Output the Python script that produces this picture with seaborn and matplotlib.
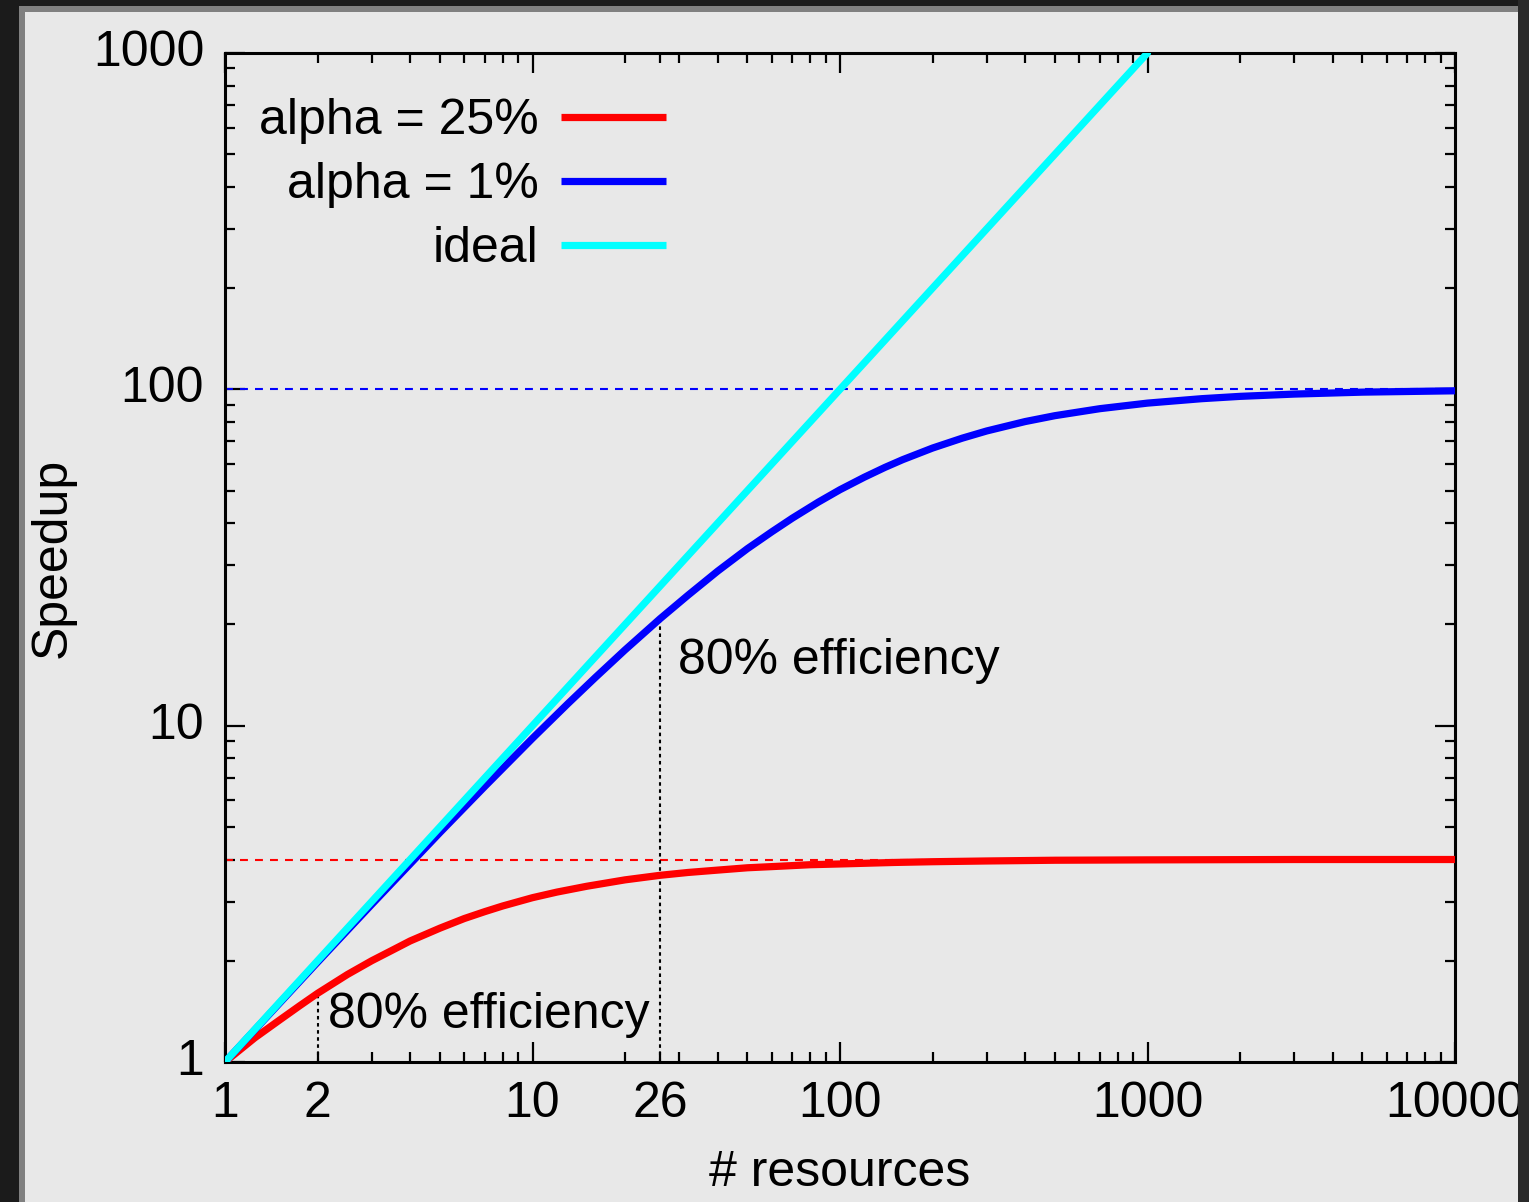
import numpy as np
import pandas as pd
import matplotlib
matplotlib.use("Agg")
import matplotlib.pyplot as plt
import matplotlib.ticker as mticker
import matplotlib.transforms as mtransforms
from matplotlib.patches import Rectangle
import seaborn as sns

# speedup vs number of resources
n_alpha25 = [1, 1.25, 1.5, 1.75, 2, 2.5, 3, 3.5, 4, 5, 6, 7, 8, 10, 12, 15, 20, 26, 32, 40,
             50, 60, 80, 100, 150, 200, 300, 500, 1000, 3000, 10000]
s_alpha25 = [1.00, 1.18, 1.33, 1.47, 1.60, 1.82, 2.00, 2.15, 2.29, 2.50, 2.67, 2.80, 2.91,
             3.08, 3.20, 3.33, 3.48, 3.59, 3.66, 3.72, 3.78, 3.81, 3.86, 3.88, 3.92, 3.94,
             3.96, 3.98, 3.99, 4.00, 4.00]

n_alpha1 = [1, 2, 3, 5, 7, 10, 13, 16, 20, 26, 32, 40, 50, 60, 70, 85, 100, 120, 140, 160,
            200, 250, 300, 400, 500, 700, 1000, 1500, 2000, 3000, 5000, 10000]
s_alpha1 = [1.00, 1.98, 2.94, 4.81, 6.60, 9.17, 11.6, 13.9, 16.8, 20.8, 24.4, 28.8, 33.6,
            37.7, 41.4, 46.2, 50.3, 54.8, 58.6, 61.8, 66.9, 71.6, 75.2, 80.2, 83.5, 87.6,
            91.0, 93.8, 95.3, 96.8, 98.1, 99.0]

n_ideal = [1, 1000]
s_ideal = [1, 1000]

limit_levels = [4, 100]          # asymptotes for alpha = 25% and 1%
eff_n = [2, 26]                  # 80% efficiency points
eff_s = [1.6, 20.8]

labels = ["alpha = 25%", "alpha = 1%", "ideal"]
x_ticks = [1, 10, 100, 1000, 10000]
x_extra = [2, 26]
y_ticks = [1, 10, 100, 1000]

RED, BLUE, CYAN = "#ff0000", "#0000ff", "#00ffff"
BG = "#e8e8e8"
FS = 36
LW = 5.2

sns.set_theme(style="ticks")
plt.rcParams["font.family"] = ["Liberation Sans", "DejaVu Sans"]
plt.rcParams["axes.linewidth"] = 2.2
plt.rcParams["axes.edgecolor"] = "black"
plt.rcParams["axes.labelcolor"] = "black"
plt.rcParams["text.color"] = "black"
plt.rcParams["xtick.color"] = "black"
plt.rcParams["ytick.color"] = "black"

fig = plt.figure(figsize=(15.29, 12.02), dpi=100, facecolor=BG)
ax = fig.add_axes([225 / 1529, 1 - 1062 / 1202, 1230 / 1529, 1009 / 1202])
ax.set_facecolor(BG)

df25 = pd.DataFrame({"n": n_alpha25, "s": s_alpha25})
df1 = pd.DataFrame({"n": n_alpha1, "s": s_alpha1})
dfi = pd.DataFrame({"n": n_ideal, "s": s_ideal})

# dashed asymptotes and dotted efficiency markers
ax.hlines(limit_levels, 1, 10000, colors=[RED, BLUE], linewidth=1.5,
          linestyles=[(0, (3.8, 3.4))], zorder=1)
ax.vlines(eff_n, 1, eff_s, colors="black", linewidth=1.5,
          linestyles=[(0, (1.7, 1.7))], zorder=1)

sns.lineplot(data=df25, x="n", y="s", color=RED, lw=LW, label=labels[0], ax=ax, zorder=3)
sns.lineplot(data=df1, x="n", y="s", color=BLUE, lw=LW, label=labels[1], ax=ax, zorder=3)
sns.lineplot(data=dfi, x="n", y="s", color=CYAN, lw=LW, label=labels[2], ax=ax, zorder=3)

ax.set_xscale("log")
ax.set_yscale("log")
ax.set_xlim(1, 10000)
ax.set_ylim(1, 1000)

ax.xaxis.set_major_locator(mticker.FixedLocator(x_ticks))
ax.xaxis.set_major_formatter(mticker.FixedFormatter([str(t) for t in x_ticks]))
ax.yaxis.set_major_locator(mticker.FixedLocator(y_ticks))
ax.yaxis.set_major_formatter(mticker.FixedFormatter([str(t) for t in y_ticks]))

minor = [m * 10 ** k for k in range(4) for m in range(2, 10)]
ax.xaxis.set_minor_locator(mticker.FixedLocator(sorted(minor + [26])))
ax.xaxis.set_minor_formatter(mticker.FuncFormatter(
    lambda v, p: str(int(round(v))) if int(round(v)) in x_extra else ""))
ax.yaxis.set_minor_locator(mticker.LogLocator(base=10, subs=range(2, 10)))
ax.yaxis.set_minor_formatter(mticker.NullFormatter())

ax.tick_params(which="both", direction="in", top=True, right=True, width=1.6,
               labelsize=FS)
ax.tick_params(which="major", length=14.5)
ax.tick_params(which="minor", length=7.2)
ax.tick_params(axis="x", which="both", pad=14)
ax.tick_params(axis="y", which="both", pad=15)

# no tick mark at 26, only the label
for t in ax.xaxis.get_minor_ticks():
    if abs(t.get_loc() - 26) < 1e-6:
        t.tick1line.set_visible(False)
        t.tick2line.set_visible(False)

# y labels sit a little above their ticks, as in gnuplot
shift = mtransforms.ScaledTranslation(0, 5 / 100, fig.dpi_scale_trans)
for lab in ax.get_yticklabels():
    lab.set_transform(lab.get_transform() + shift)

ax.set_xlabel("# resources", fontsize=FS, labelpad=16)
ax.set_ylabel("Speedup", fontsize=FS, labelpad=12)

ax.text(2.16, 1.26, "80% efficiency", fontsize=FS, va="baseline", ha="left")
ax.text(29.7, 14.2, "80% efficiency", fontsize=FS, va="baseline", ha="left")

leg = ax.legend(loc="upper right", bbox_to_anchor=(666 / 1529, 1 - 98 / 1202),
                bbox_transform=fig.transFigure, frameon=False, markerfirst=False,
                fontsize=FS, handlelength=2.1, handletextpad=0.45, labelspacing=0.36,
                borderpad=0, borderaxespad=0)
for h in leg.get_lines():
    h.set_linewidth(5.2)
    h.set_solid_capstyle("butt")

# window frame around the picture
W, H = 1529, 1202
frame = [
    (0, 0, 19, H, "#1b1b1b"),
    (19, 0, 6, H - 6, "#808080"),
    (0, H - 6, W, 6, "#1b1b1b"),
    (19, H - 12, W - 30, 6, "#808080"),
    (W - 11, 0, 11, H, "#2a2a2a"),
]
for x0, y0, w, h, c in frame:
    fig.patches.append(Rectangle((x0 / W, y0 / H), w / W, h / H, transform=fig.transFigure,
                                 facecolor=c, edgecolor="none", zorder=10))

plt.savefig("out.png", dpi=100, facecolor=BG)
